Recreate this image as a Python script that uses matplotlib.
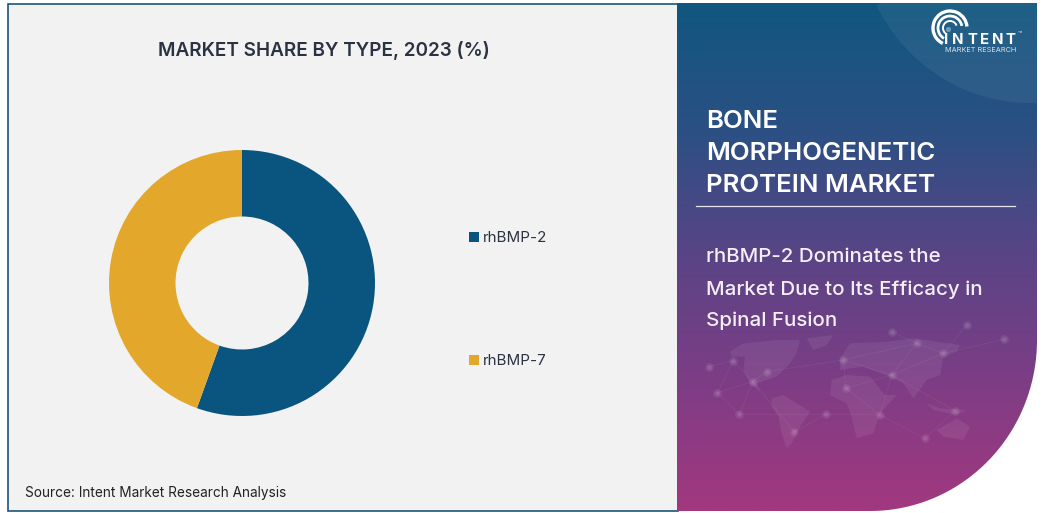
import numpy as np
import matplotlib
matplotlib.use('Agg')
import matplotlib.pyplot as plt
from matplotlib.patches import Rectangle, PathPatch, Polygon, Arc
from matplotlib.path import Path
from matplotlib.colors import LinearSegmentedColormap

types = ['rhBMP-2', 'rhBMP-7']
shares = [55.5, 44.5]
colors = ['#0a5580', '#e3a82b']

title = 'MARKET SHARE BY TYPE, 2023 (%)'
source = 'Source: Intent Market Research Analysis'
head_lines = ['BONE', 'MORPHOGENETIC', 'PROTEIN MARKET']
sub_lines = ['rhBMP-2 Dominates the', 'Market Due to Its Efficacy in', 'Spinal Fusion']

plt.rcParams['font.family'] = ['Inter', 'DejaVu Sans']

W, H = 1043, 513
fig = plt.figure(figsize=(W / 100, H / 100), dpi=100, facecolor='white')
bg = fig.add_axes([0, 0, 1, 1])
bg.set_xlim(0, W)
bg.set_ylim(H, 0)
bg.axis('off')

# left panel
bg.add_patch(Rectangle((7.5, 3.5), 670, 507, fc='#f2f2f2', ec='#1c5478', lw=1.2))

# right panel, gradient clipped to the rounded corner
L, R, T, B = 677, 1037, 3, 511
t = np.linspace(0, np.pi / 2, 60)
arc_x = 870 + 167 * np.cos(t)
arc_y = 340 + 171 * np.sin(t)
verts = [(L, T), (R, T)] + list(zip(arc_x, arc_y)) + [(L, B), (L, T)]
clip = PathPatch(Path(verts), fc='none', ec='none', transform=bg.transData)
bg.add_patch(clip)
cmap = LinearSegmentedColormap.from_list('panel', ['#10577f', '#2b5083', '#5a4486', '#7e3d85', '#a2387f'])
grad = np.linspace(0, 1, 256).reshape(-1, 1)
im = bg.imshow(grad, cmap=cmap, extent=[L, R, B, T], aspect='auto', zorder=1)
im.set_clip_path(clip)
bg.set_xlim(0, W)
bg.set_ylim(H, 0)

# lighter swoosh behind the logo
t = np.linspace(np.pi * 0.85, np.pi * 0.48, 50)
sw_x = 1030 + 172 * np.cos(t)
sw_y = -75 + 178 * np.sin(t)
sw = Polygon(list(zip(sw_x, sw_y)) + [(1037, 103), (1037, 3), (880, 3)], fc='white', ec='none', alpha=0.06, zorder=2)
bg.add_patch(sw)
sw.set_clip_path(clip)


def mz(points):
    return [(700 + x / 3, 320 + y / 3) for x, y in points]


# faint world map
continents = [
    [(90, 95), (130, 70), (230, 60), (300, 60), (290, 100), (270, 130), (230, 170), (170, 190), (180, 215), (150, 190), (130, 150), (135, 110), (95, 110)],
    [(320, 55), (400, 45), (380, 75), (340, 90)],
    [(215, 235), (250, 225), (330, 275), (300, 320), (275, 370), (260, 385), (245, 340), (235, 290), (215, 260)],
    [(395, 180), (440, 165), (510, 170), (555, 225), (590, 225), (540, 280), (520, 340), (470, 355), (455, 290), (440, 250), (390, 225)],
    [(420, 115), (450, 70), (560, 65), (640, 55), (780, 75), (770, 95), (730, 110), (720, 165), (680, 180), (640, 235), (610, 190), (570, 170), (530, 155), (490, 140), (420, 150)],
    [(710, 330), (770, 295), (810, 320), (790, 360), (730, 350)],
    [(680, 250), (720, 265), (800, 270), (770, 285), (700, 270)],
]
for c in continents:
    bg.add_patch(Polygon(mz(c), fc='white', ec='none', alpha=0.07, zorder=2))
nodes = mz([(27, 140), (52, 218), (100, 122), (158, 185), (200, 155), (118, 283), (378, 283), (283, 335), (430, 120),
            (438, 205), (575, 165), (540, 285), (765, 272), (730, 100), (650, 70), (575, 35), (800, 15), (912, 58), (675, 355)])
links = [(0, 2), (1, 2), (1, 3), (2, 3), (3, 4), (1, 5), (3, 5), (5, 6), (6, 7), (4, 8), (6, 11), (8, 9), (8, 10), (9, 10),
         (10, 11), (10, 12), (10, 13), (13, 14), (14, 15), (8, 14), (10, 14), (11, 18), (13, 16), (13, 17), (12, 18), (9, 11), (3, 7)]
nx = [p[0] for p in nodes]
ny = [p[1] for p in nodes]
for a, b in links:
    bg.plot([nx[a], nx[b]], [ny[a], ny[b]], color='white', lw=0.4, alpha=0.09, zorder=2)
bg.scatter(nx, ny, s=40, color='white', alpha=0.08, lw=0, zorder=2)
bg.scatter(nx, ny, s=12, color='white', alpha=0.10, lw=0, zorder=2)

# logo
for r, lw, a1, a2 in [(7, 1.4, 130, 340), (12, 2.0, 120, 350), (17, 2.4, 115, 355)]:
    bg.add_patch(Arc((950, 28), 2 * r, 2 * r, theta1=a1, theta2=a2, color='white', lw=lw, zorder=4))
bg.scatter([948], [29], s=14, color='#6f9cbb', lw=0, zorder=4)
for x, ch in zip([946, 958, 972, 985, 998, 1010], 'INTENT'):
    bg.text(x, 40, ch, color='white', fontsize=10.8, fontweight='bold', va='center', ha='center', zorder=5)
bg.text(1018, 33, '™', color='#d8e3ec', fontsize=5, va='center', ha='left', zorder=5)
bg.text(945, 50, 'MARKET RESEARCH', color='#d8e3ec', fontsize=5.3, va='center', ha='left', zorder=5)

# left panel text
bg.text(323.5, 50.5, title, color='#2a3342', fontsize=13.65, fontweight='semibold', ha='center', va='center', zorder=5)
bg.text(25, 492.5, source, color='#222222', fontsize=9.8, ha='left', va='center', zorder=5)

# right panel text
for y, s in zip([121, 153, 185], head_lines):
    bg.text(706, y, s, color='white', fontsize=18.6, fontweight='semibold', ha='left', va='center', zorder=5)
bg.plot([696, 1015], [206, 206], color='#e8e4ee', lw=0.9, zorder=5)
for y, s in zip([257.5, 289.5, 320.5], sub_lines):
    bg.text(706, y, s, color='#f4eef6', fontsize=14.75, fontweight='medium', ha='left', va='center', zorder=5)

# donut, center (242, 283) outer radius 133
cx, cy, rad = 242, 283, 133
ax = fig.add_axes([(cx - rad) / W, 1 - (cy + rad) / H, 2 * rad / W, 2 * rad / H])
ax.pie(shares, colors=colors, startangle=90, counterclock=False, radius=1,
       wedgeprops={'width': 0.5, 'linewidth': 0})
ax.set_xlim(-1, 1)
ax.set_ylim(-1, 1)
ax.patch.set_alpha(0)

# legend
for y, name, col in zip([237, 360], types, colors):
    bg.add_patch(Rectangle((469, y - 5), 10, 10, fc=col, ec='none', zorder=5))
    bg.text(483, y + 1, name, color='#2a3342', fontsize=10.9, ha='left', va='center', zorder=5)

fig.savefig('out.png', dpi=100)
